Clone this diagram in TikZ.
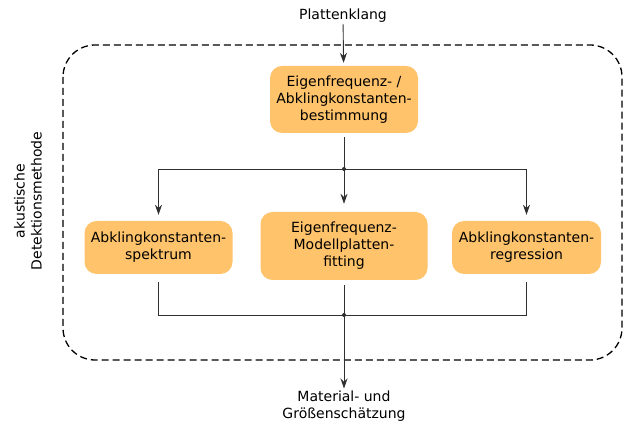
\documentclass[tikz,border=0pt]{standalone}
\usepackage{fontspec}
\setmainfont{DejaVu Sans}
\usetikzlibrary{arrows.meta}
\definecolor{boxorange}{HTML}{FFC36B}
\definecolor{linegray}{HTML}{303030}

\begin{document}
\begin{tikzpicture}[x=1pt,y=-1pt,
    font=\fontsize{14}{17}\selectfont,
    proc/.style={fill=boxorange,rounded corners=12pt,align=center,inner sep=0pt},
    conn/.style={draw=linegray,line width=0.9pt},
    flow/.style={conn,-{Stealth[length=10pt,width=7pt]}}]
 \useasboundingbox (0,0) rectangle (627,430);
 % Rahmen der Detektionsmethode
 \draw[line width=1.3pt,dash pattern=on 7pt off 4pt,rounded corners=32pt]
    (63,45) rectangle (622,360);
 \node[rotate=90,align=center] (methode) at (28,201) {akustische\\Detektionsmethode};
 % Ein- und Ausgang
 \node[inner sep=2pt] (klang) at (343,15.5) {Plattenklang};
 \node[align=center,inner sep=2pt] (ergebnis) at (344,406) {Material- und\\Größenschätzung};
 % Verfahren
 \node[proc,minimum width=148pt,minimum height=67pt] (bestimmung) at (344,99.5)
    {Eigenfrequenz- /\\Abklingkonstanten-\\bestimmung};
 \node[proc,minimum width=148pt,minimum height=53pt] (spektrum) at (158.5,247.5)
    {Abklingkonstanten-\\spektrum};
 \node[proc,minimum width=167pt,minimum height=68pt] (fitting) at (344,246)
    {Eigenfrequenz-\\Modellplatten-\\fitting};
 \node[proc,minimum width=149pt,minimum height=53pt] (regression) at (526.5,247.5)
    {Abklingkonstanten-\\regression};
 \coordinate (oben) at (344,169);
 \coordinate (unten) at (344,315);
 % Verbindungen
 \draw[flow,shorten >=3pt] (klang) -- (bestimmung);
 \draw[conn,shorten <=4pt] (bestimmung) -- (oben);
 \draw[flow,shorten >=6pt] (oben) -| (spektrum);
 \draw[flow,shorten >=6pt] (oben) -| (regression);
 \draw[flow,shorten >=8pt] (oben) -- (fitting);
 \draw[conn,shorten <=8pt] (spektrum) |- (unten);
 \draw[conn,shorten <=8pt] (regression) |- (unten);
 \draw[conn,shorten <=5pt] (fitting) -- (unten);
 \draw[flow] (unten) -- (ergebnis);
 \fill[linegray] (oben) circle (2pt);
 \fill[linegray] (unten) circle (2pt);
\end{tikzpicture}
\end{document}
